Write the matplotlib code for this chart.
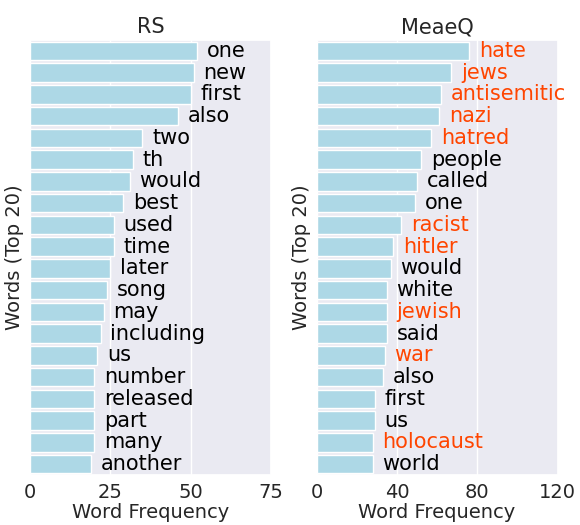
import matplotlib
matplotlib.use("Agg")
import matplotlib.pyplot as plt
import seaborn as sns

sns.set_theme(style="darkgrid")
plt.rcParams['font.family'] = ['DejaVu Sans']

rs_words = ["one", "new", "first", "also", "two", "th", "would", "best", "used", "time",
            "later", "song", "may", "including", "us", "number", "released", "part", "many", "another"]
rs_counts = [52, 51, 50, 46, 35, 32, 31, 29, 26, 26, 25, 24, 23, 22, 21, 20, 20, 20, 20, 19]

mq_words = ["hate", "jews", "antisemitic", "nazi", "hatred", "people", "called", "one", "racist", "hitler",
            "would", "white", "jewish", "said", "war", "also", "first", "us", "holocaust", "world"]
mq_counts = [76, 67, 62, 61, 57, 52, 50, 49, 42, 38, 37, 35, 35, 35, 34, 33, 29, 29, 28, 28]
mq_highlight = ["hate", "jews", "antisemitic", "nazi", "hatred", "racist", "hitler", "jewish", "war", "holocaust"]

titles = ["RS", "MeaeQ"]
xticks = [[0, 25, 50, 75], [0, 40, 80, 120]]

fig, axes = plt.subplots(1, 2, figsize=(5.8, 5.25), dpi=100)
fig.subplots_adjust(left=30/580, right=557.5/580, top=1-40/525, bottom=1-475/525, wspace=0.19)

datasets = [(rs_words, rs_counts, []), (mq_words, mq_counts, mq_highlight)]
for ax, (words, counts, hl), title, xt in zip(axes, datasets, titles, xticks):
    pos = list(range(len(words)))
    ax.barh(pos, counts, height=0.85, color="lightblue")
    ax.set_ylim(len(words) - 0.5, -0.5)
    ax.set_xlim(xt[0], xt[-1])
    ax.set_xticks(xt)
    ax.set_yticks([])
    ax.grid(axis='y', visible=False)
    ax.tick_params(axis='x', labelsize=14, length=0, pad=5.5)
    ax.set_xlabel("Word Frequency", fontsize=14, labelpad=1)
    ax.set_ylabel("Words (Top 20)", fontsize=14, labelpad=4)
    ax.set_title(title, fontsize=15, pad=5)
    for p, c, w in zip(pos, counts, words):
        col = "orangered" if w in hl else "black"
        ax.annotate(w, (c, p), xytext=(7, 0), textcoords="offset points",
                    ha="left", va="center", fontsize=15, color=col, clip_on=False)

fig.savefig("out.png", dpi=100)
